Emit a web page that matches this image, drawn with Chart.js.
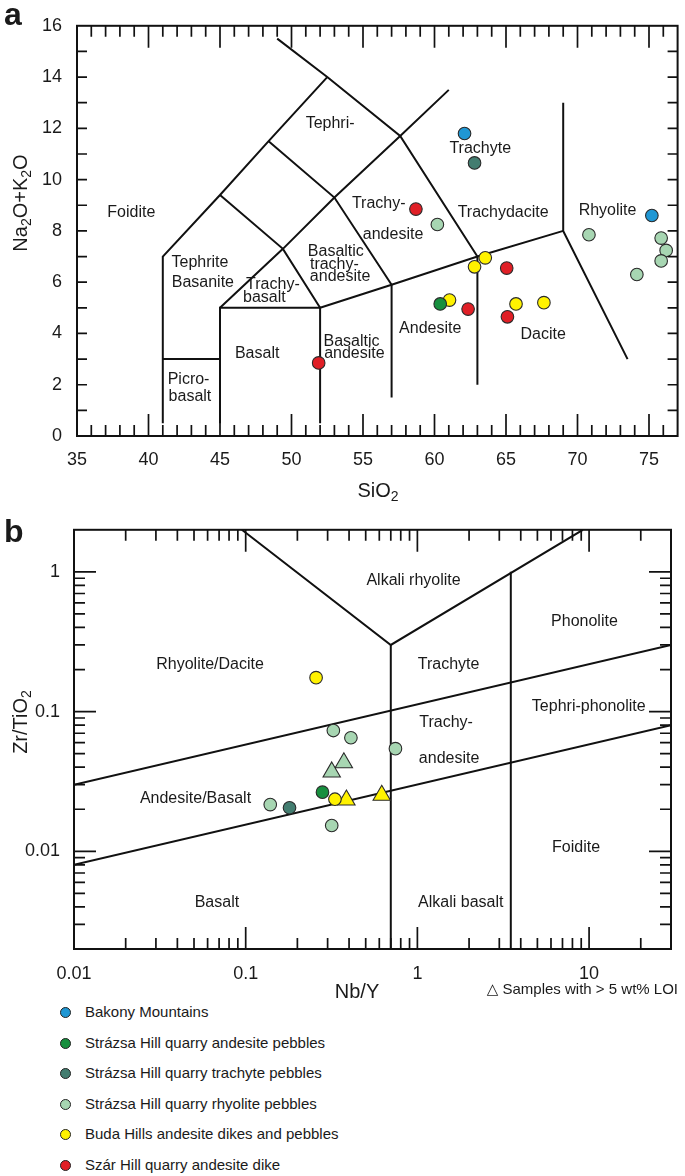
<!DOCTYPE html>
<html>
<head>
<meta charset="utf-8">
<script src="https://cdn.jsdelivr.net/npm/chart.js@4.4.1/dist/chart.umd.min.js"></script>
<style>
    body { margin: 0; background: #fff; }
    #wrap { position: relative; width: 685px; height: 1176px; font-family: "Liberation Sans", Arial, sans-serif; color: #1a1a1a; }
    #tasChart { position: absolute; left: 0; top: 0; }
    #wfChart { position: absolute; left: 0; top: 505px; }
    .leg { position: absolute; left: 60px; font-size: 15px; line-height: 18px; white-space: nowrap; }
    .leg span { display: inline-block; width: 9px; height: 9px; border: 1px solid #222; border-radius: 50%; margin-right: 14px; vertical-align: -1px; }
    #loiNote { position: absolute; right: 7px; top: 980px; font-size: 15px; line-height: 18px; font-family: "Liberation Sans", "DejaVu Sans", sans-serif; }
</style>
</head>
<body>
<div id="wrap">
    <canvas id="tasChart" width="685" height="505"></canvas>
    <canvas id="wfChart" width="685" height="495"></canvas>
    <div id="loiNote">△ Samples with &gt; 5 wt% LOI</div>
</div>

<script>
// Grup adları ve renkleri
const groupNames = [
    'Bakony Mountains',
    'Strázsa Hill quarry andesite pebbles',
    'Strázsa Hill quarry trachyte pebbles',
    'Strázsa Hill quarry rhyolite pebbles',
    'Buda Hills andesite dikes and pebbles',
    'Szár Hill quarry andesite dike'
];
const groupColors = ['#1f97d4', '#178f3e', '#437d70', '#a7d6b2', '#fff200', '#e01f26'];

// (a) TAS diyagramı: SiO2, Na2O+K2O
const tasBakony = [[62.1, 11.8], [75.2, 8.6]];
const tasAndesitePebbles = [[60.4, 5.15]];
const tasTrachytePebbles = [[62.8, 10.65]];
const tasRhyolitePebbles = [[60.2, 8.25], [70.8, 7.85], [75.85, 7.72], [76.2, 7.24], [75.85, 6.83], [74.15, 6.3]];
const tasBuda = [[61.05, 5.3], [63.55, 6.95], [62.8, 6.6], [65.7, 5.15], [67.65, 5.2]];
const tasSzar = [[58.7, 8.85], [51.9, 2.85], [65.05, 6.55], [62.35, 4.95], [65.1, 4.65]];
const tasXLabels = [35, 40, 45, 50, 55, 60, 65, 70, 75];

// TAS alan sınırları
const tasFieldLines = [
    [[41, 0.5], [41, 7], [45, 9.4], [48.4, 11.5], [52.5, 14]],
    [[49, 15.5], [52.5, 14], [57.6, 11.7], [63, 7], [63, 2]],
    [[41, 3], [45, 3]],
    [[45, 0.5], [45, 5], [52, 5], [52, 0.5]],
    [[52, 5], [57, 5.9], [63, 7], [69, 8]],
    [[57, 1.5], [57, 5.9], [53, 9.3], [48.4, 11.5]],
    [[45, 9.4], [49.4, 7.3], [52, 5]],
    [[45, 5], [49.4, 7.3], [53, 9.3], [57.6, 11.7], [61, 13.5]],
    [[69, 13], [69, 8], [73.5, 3]]
];
const tasFieldNames = [
    ['Foidite', 38.8, 8.7], ['Tephri-', 52.7, 12.2],
    ['Tephrite', 43.6, 6.75], ['Basanite', 43.8, 6.0],
    ['Trachy-', 48.7, 5.9], ['basalt', 48.1, 5.4],
    ['Basaltic', 53.1, 7.2], ['trachy-', 53.0, 6.7], ['andesite', 53.4, 6.2],
    ['Trachy-', 56.1, 9.05], ['andesite', 57.1, 7.85],
    ['Trachyte', 63.2, 11.2], ['Trachydacite', 64.8, 8.7], ['Rhyolite', 72.1, 8.8],
    ['Andesite', 59.7, 4.2], ['Dacite', 67.6, 3.95], ['Basalt', 47.6, 3.2],
    ['Basaltic', 54.2, 3.7], ['andesite', 54.4, 3.2],
    ['Picro-', 42.8, 2.2], ['basalt', 42.9, 1.55]
];

// (b) Nb/Y - Zr/TiO2 diyagramı
const wfAndesitePebbles = [[0.28, 0.0265]];
const wfTrachytePebbles = [[0.18, 0.0205]];
const wfRhyolitePebbles = [[0.324, 0.0732], [0.41, 0.065], [0.745, 0.0543], [0.139, 0.0216], [0.317, 0.0153]];
const wfRhyolitePebblesLoi = [[0.373, 0.043], [0.317, 0.037]];
const wfBuda = [[0.257, 0.175], [0.331, 0.0236]];
const wfBudaLoi = [[0.386, 0.0233], [0.62, 0.0252]];

const wfFieldLines = [
    [[0.01, 0.03], [30, 0.3]],
    [[0.01, 0.008], [30, 0.08]],
    [[0.095, 2], [0.7, 0.3], [9.2, 2]],
    [[0.7, 0.3], [0.7, 0.002]],
    [[3.5, 1], [3.5, 0.002]]
];
const wfFieldNames = [
    ['Alkali rhyolite', 0.95, 0.87], ['Phonolite', 9.4, 0.44],
    ['Rhyolite/Dacite', 0.062, 0.217], ['Trachyte', 1.52, 0.217],
    ['Tephri-phonolite', 9.96, 0.109], ['Trachy-', 1.47, 0.0838], ['andesite', 1.53, 0.0464],
    ['Andesite/Basalt', 0.051, 0.0238], ['Foidite', 8.4, 0.0107],
    ['Basalt', 0.068, 0.00431], ['Alkali basalt', 1.79, 0.00431]
];

const FONT = '"Liberation Sans", Arial, sans-serif';
const INK = '#1a1a1a';

const xy = arr => arr.map(([x, y]) => ({ x, y }));

function pointSet(data, color, style) {
    return {
        data: xy(data),
        backgroundColor: color,
        borderColor: '#2a2a2a',
        borderWidth: 1.1,
        pointStyle: style || 'circle',
        pointRadius: style === 'triangle' ? 10 : 6.3,
        showLine: false
    };
}

function lineSet(data) {
    return {
        data: xy(data),
        showLine: true,
        borderColor: '#111',
        borderWidth: 2,
        pointRadius: 0,
        fill: false,
        tension: 0
    };
}

// alt simge içeren yazı
function drawRich(ctx, parts, cx, cy, size, vertical) {
    ctx.save();
    ctx.translate(cx, cy);
    if (vertical) ctx.rotate(-Math.PI / 2);
    const big = `${size}px ${FONT}`;
    const small = `${Math.round(size * 0.7)}px ${FONT}`;
    let w = 0;
    parts.forEach(([t, sub]) => { ctx.font = sub ? small : big; w += ctx.measureText(t).width; });
    let x = -w / 2;
    ctx.textBaseline = 'middle';
    ctx.textAlign = 'left';
    ctx.fillStyle = INK;
    parts.forEach(([t, sub]) => {
        ctx.font = sub ? small : big;
        ctx.fillText(t, x, sub ? size * 0.32 : 0);
        x += ctx.measureText(t).width;
    });
    ctx.restore();
}

// çerçeve, içe dönük tik çizgileri, alan adları ve başlıklar
const diagramDecor = {
    id: 'diagramDecor',
    afterDatasetsDraw(chart, args, o) {
        const { ctx, chartArea: a, scales: { x, y } } = chart;
        ctx.save();
        ctx.strokeStyle = '#111';
        ctx.lineWidth = 1.7;
        ctx.beginPath();
        o.xTicks.forEach(([v, len]) => {
            const px = x.getPixelForValue(v);
            ctx.moveTo(px, a.bottom); ctx.lineTo(px, a.bottom - len);
            ctx.moveTo(px, a.top); ctx.lineTo(px, a.top + len);
        });
        o.yTicks.forEach(([v, len]) => {
            const py = y.getPixelForValue(v);
            ctx.moveTo(a.left, py); ctx.lineTo(a.left + len, py);
            ctx.moveTo(a.right, py); ctx.lineTo(a.right - len, py);
        });
        ctx.stroke();
        ctx.lineWidth = 2;
        ctx.strokeRect(a.left, a.top, a.right - a.left, a.bottom - a.top);

        ctx.fillStyle = INK;
        ctx.font = `16px ${FONT}`;
        ctx.textAlign = 'center';
        ctx.textBaseline = 'middle';
        o.names.forEach(([t, vx, vy]) => {
            ctx.fillText(t, x.getPixelForValue(vx), y.getPixelForValue(vy));
        });

        ctx.font = `bold 32px ${FONT}`;
        ctx.textAlign = 'left';
        ctx.textBaseline = 'alphabetic';
        ctx.fillText(o.letter, 4, o.letterY);
        ctx.restore();

        drawRich(ctx, o.xTitle, o.xTitlePos[0], o.xTitlePos[1], 20, false);
        drawRich(ctx, o.yTitle, o.yTitlePos[0], o.yTitlePos[1], 20, true);
    }
};

function linearTicks() {
    const xt = [], yt = [];
    for (let v = 36; v <= 76; v++) xt.push([v, v % 5 === 0 ? 22 : 11]);
    for (let v = 1; v <= 15; v++) yt.push([v, 10]);
    return { xt, yt };
}

function logTicks(minExp, maxExp, lo, hi) {
    const out = [];
    for (let e = minExp; e <= maxExp; e++) {
        for (let k = 1; k <= 9; k++) {
            const v = k * Math.pow(10, e);
            if (v > lo * 1.0001 && v < hi * 0.9999) out.push([v, k === 1 ? 22 : 11]);
        }
    }
    return out;
}

const isDecade = v => Math.abs(Math.log10(v) - Math.round(Math.log10(v))) < 1e-6;
const tickFont = { size: 18, family: FONT };

// (a) grafiği
const tasT = linearTicks();
new Chart(document.getElementById('tasChart'), {
    type: 'scatter',
    data: {
        datasets: [
            pointSet(tasBakony, groupColors[0]),
            pointSet(tasAndesitePebbles, groupColors[1]),
            pointSet(tasTrachytePebbles, groupColors[2]),
            pointSet(tasRhyolitePebbles, groupColors[3]),
            pointSet(tasBuda, groupColors[4]),
            pointSet(tasSzar, groupColors[5]),
            ...tasFieldLines.map(lineSet)
        ]
    },
    options: {
        responsive: false,
        animation: false,
        layout: { padding: { top: 13, right: 4, left: 0, bottom: 0 } },
        plugins: {
            legend: { display: false },
            tooltip: { enabled: false },
            diagramDecor: {
                xTicks: tasT.xt, yTicks: tasT.yt, names: tasFieldNames,
                letter: 'a', letterY: 25,
                xTitle: [['SiO', 0], ['2', 1]], xTitlePos: [378, 491],
                yTitle: [['Na', 0], ['2', 1], ['O+K', 0], ['2', 1], ['O', 0]], yTitlePos: [21, 203]
            }
        },
        scales: {
            x: {
                type: 'linear', min: 35, max: 77,
                grid: { display: false, drawTicks: false }, border: { display: false },
                ticks: { padding: 13, color: INK, font: tickFont, maxRotation: 0, autoSkip: false },
                afterBuildTicks: s => { s.ticks = tasXLabels.map(v => ({ value: v })); },
                afterFit: s => { s.height = 69; }
            },
            y: {
                min: 0, max: 16,
                grid: { display: false, drawTicks: false }, border: { display: false },
                ticks: { stepSize: 2, padding: 15, color: INK, font: tickFont },
                afterFit: s => { s.width = 77; }
            }
        }
    },
    plugins: [diagramDecor]
});

// (b) grafiği
new Chart(document.getElementById('wfChart'), {
    type: 'scatter',
    data: {
        datasets: [
            pointSet(wfAndesitePebbles, groupColors[1]),
            pointSet(wfTrachytePebbles, groupColors[2]),
            pointSet(wfRhyolitePebbles, groupColors[3]),
            pointSet(wfRhyolitePebblesLoi, groupColors[3], 'triangle'),
            pointSet(wfBuda, groupColors[4]),
            pointSet(wfBudaLoi, groupColors[4], 'triangle'),
            ...wfFieldLines.map(lineSet)
        ]
    },
    options: {
        responsive: false,
        animation: false,
        layout: { padding: { top: 19, right: 5, left: 0, bottom: 0 } },
        plugins: {
            legend: { display: false },
            tooltip: { enabled: false },
            diagramDecor: {
                xTicks: logTicks(-2, 1, 0.01, 30), yTicks: logTicks(-3, 0, 0.002, 2), names: wfFieldNames,
                letter: 'b', letterY: 37,
                xTitle: [['Nb/Y', 0]], xTitlePos: [357, 487],
                yTitle: [['Zr/TiO', 0], ['2', 1]], yTitlePos: [21, 217]
            }
        },
        scales: {
            x: {
                type: 'logarithmic', min: 0.01, max: 30,
                grid: { display: false, drawTicks: false }, border: { display: false },
                ticks: { padding: 14, color: INK, font: tickFont, maxRotation: 0, autoSkip: false,
                    callback: v => (isDecade(v) ? String(+v.toPrecision(1)) : '') },
                afterFit: s => { s.height = 51; }
            },
            y: {
                type: 'logarithmic', min: 0.002, max: 2,
                grid: { display: false, drawTicks: false }, border: { display: false },
                ticks: { padding: 14, color: INK, font: tickFont, autoSkip: false,
                    callback: v => (isDecade(v) && v >= 0.01 ? String(+v.toPrecision(1)) : '') },
                afterFit: s => { s.width = 74; }
            }
        }
    },
    plugins: [diagramDecor]
});

// Lejant
const wrap = document.getElementById('wrap');
groupNames.forEach((name, i) => {
    const row = document.createElement('div');
    row.className = 'leg';
    row.style.top = (1003 + i * 30.5) + 'px';
    const dot = document.createElement('span');
    dot.style.background = groupColors[i];
    row.appendChild(dot);
    row.appendChild(document.createTextNode(name));
    wrap.appendChild(row);
});
</script>
</body>
</html>
